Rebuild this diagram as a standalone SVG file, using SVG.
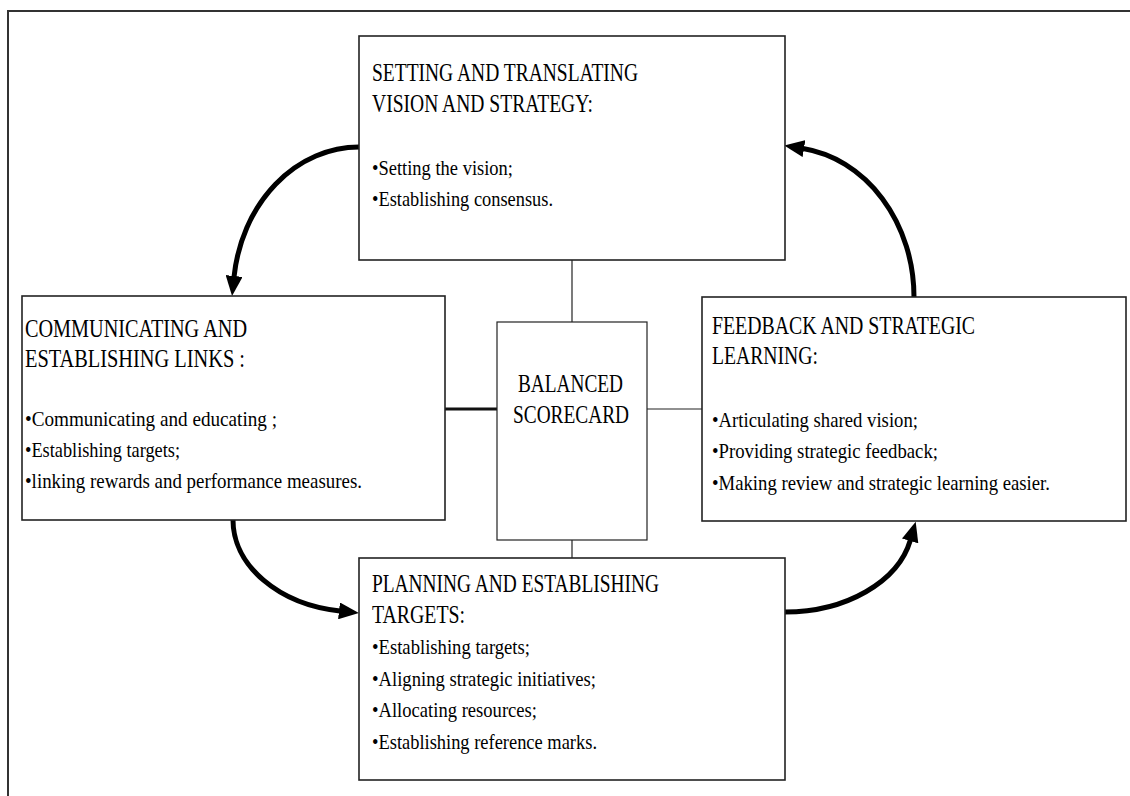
<svg xmlns="http://www.w3.org/2000/svg" width="1130" height="796" viewBox="0 0 1130 796">
<style>
.box{fill:#fff;stroke:#222;stroke-width:1.6}
.sbox{fill:#fff;stroke:#222;stroke-width:1.2}
.t{font-family:'Liberation Serif','DejaVu Serif','Times New Roman',serif;font-size:26px;fill:#000}
.b{font-family:'Liberation Serif','DejaVu Serif','Times New Roman',serif;font-size:22px;fill:#000}
.thin{stroke:#222;stroke-width:1.2;fill:none}
.arc{stroke:#000;stroke-width:5;fill:none;marker-end:url(#ah)}
</style>
<defs>
<marker id="ah" markerUnits="userSpaceOnUse" markerWidth="20" markerHeight="17" viewBox="0 0 20 17" refX="1" refY="8.5" orient="auto">
<path d="M0,0 L20,8.5 L0,17 z" fill="#000"/>
</marker>
</defs>
<rect width="1130" height="796" fill="#fff"/>
<path d="M8,796 V11 H1130" fill="none" stroke="#333" stroke-width="2"/>
<g id="connectors">
<line class="thin" x1="572" y1="260" x2="572" y2="322"/>
<line class="thin" x1="572" y1="540" x2="572" y2="558"/>
<line x1="445" y1="409" x2="497" y2="409" stroke="#111" stroke-width="3"/>
<line class="thin" x1="647" y1="409" x2="702" y2="409"/>
<path class="arc" d="M359,147 A126,148 0 0 0 234,277"/>
<path class="arc" d="M914,297 A129,150 0 0 0 803,148.5"/>
<path class="arc" d="M233,520 A125,92 0 0 0 340,611"/>
<path class="arc" d="M785,612 A128,90 0 0 0 910.4,540"/>
</g>
<g id="node-top">
<rect class="box" x="359" y="36" width="426" height="224"/>
<text class="t" x="372" y="81" textLength="266" lengthAdjust="spacingAndGlyphs">SETTING AND TRANSLATING</text>
<text class="t" x="372" y="112" textLength="221" lengthAdjust="spacingAndGlyphs">VISION AND STRATEGY:</text>
<text class="b" x="372" y="175" textLength="141" lengthAdjust="spacingAndGlyphs">•Setting the vision;</text>
<text class="b" x="372" y="206" textLength="181" lengthAdjust="spacingAndGlyphs">•Establishing consensus.</text>
</g>
<g id="node-left">
<rect class="box" x="22" y="296" width="423" height="224"/>
<text class="t" x="25" y="337" textLength="222" lengthAdjust="spacingAndGlyphs">COMMUNICATING AND</text>
<text class="t" x="25" y="367" textLength="220" lengthAdjust="spacingAndGlyphs">ESTABLISHING LINKS :</text>
<text class="b" x="25" y="426" textLength="252" lengthAdjust="spacingAndGlyphs">•Communicating and educating ;</text>
<text class="b" x="25" y="457" textLength="155" lengthAdjust="spacingAndGlyphs">•Establishing targets;</text>
<text class="b" x="25" y="488" textLength="337" lengthAdjust="spacingAndGlyphs">•linking rewards and performance measures.</text>
</g>
<g id="node-center">
<rect class="sbox" x="497" y="322" width="150" height="218"/>
<text class="t" x="570.5" y="392" text-anchor="middle" textLength="105" lengthAdjust="spacingAndGlyphs">BALANCED</text>
<text class="t" x="571" y="423" text-anchor="middle" textLength="116" lengthAdjust="spacingAndGlyphs">SCORECARD</text>
</g>
<g id="node-right">
<rect class="box" x="702" y="297" width="424" height="224"/>
<text class="t" x="712" y="334" textLength="263" lengthAdjust="spacingAndGlyphs">FEEDBACK AND STRATEGIC</text>
<text class="t" x="712" y="364" textLength="106" lengthAdjust="spacingAndGlyphs">LEARNING:</text>
<text class="b" x="712" y="427" textLength="206" lengthAdjust="spacingAndGlyphs">•Articulating shared vision;</text>
<text class="b" x="712" y="458" textLength="226" lengthAdjust="spacingAndGlyphs">•Providing strategic feedback;</text>
<text class="b" x="712" y="490" textLength="338" lengthAdjust="spacingAndGlyphs">•Making review and strategic learning easier.</text>
</g>
<g id="node-bottom">
<rect class="box" x="359" y="558" width="426" height="222"/>
<text class="t" x="372" y="592" textLength="287" lengthAdjust="spacingAndGlyphs">PLANNING AND ESTABLISHING</text>
<text class="t" x="372" y="623" textLength="93" lengthAdjust="spacingAndGlyphs">TARGETS:</text>
<text class="b" x="372" y="654" textLength="158" lengthAdjust="spacingAndGlyphs">•Establishing targets;</text>
<text class="b" x="372" y="686" textLength="224" lengthAdjust="spacingAndGlyphs">•Aligning strategic initiatives;</text>
<text class="b" x="372" y="717" textLength="165" lengthAdjust="spacingAndGlyphs">•Allocating resources;</text>
<text class="b" x="372" y="749" textLength="225" lengthAdjust="spacingAndGlyphs">•Establishing reference marks.</text>
</g>
</svg>
